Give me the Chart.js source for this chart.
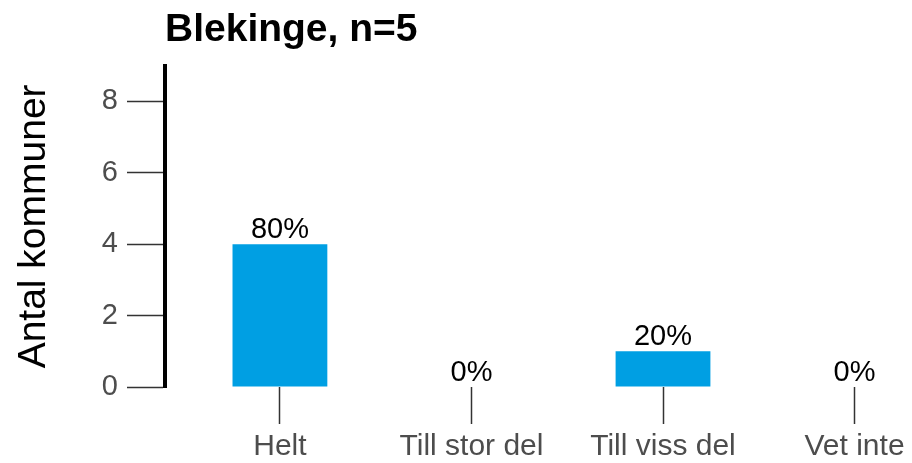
<!DOCTYPE html>
<html lang="sv">
<head>
<meta charset="utf-8">
<title>Blekinge, n=5</title>
<script src="https://cdn.jsdelivr.net/npm/chart.js@4/dist/chart.umd.min.js"></script>
<style>
  html, body { margin: 0; padding: 0; background: #fff; overflow: hidden; }
  #wrap { position: relative; width: 912px; height: 463px; }
</style>
</head>
<body>
<div id="wrap"><canvas id="chart"></canvas></div>
<script>
// Svarsfördelning per kategori
const region = 'Blekinge';
const n = 5;
const categories = ['Helt', 'Till stor del', 'Till viss del', 'Vet inte'];
const counts = [4, 0, 1, 0];
const yTicks = [0, 2, 4, 6, 8];

const FONT = '"Liberation Sans", Arial, sans-serif';
const BAR_COLOR = '#009FE3';

// percentage labels above each bar
const valueLabels = {
  id: 'valueLabels',
  afterDatasetsDraw(chart) {
    const ctx = chart.ctx;
    const meta = chart.getDatasetMeta(0);
    ctx.save();
    ctx.font = '29px ' + FONT;
    ctx.fillStyle = '#000';
    ctx.textAlign = 'center';
    ctx.textBaseline = 'alphabetic';
    meta.data.forEach((bar, i) => {
      const pct = Math.round(counts[i] / n * 100) + '%';
      ctx.fillText(pct, bar.x, bar.y - 6);
    });
    ctx.restore();
  }
};

new Chart(document.getElementById('chart'), {
  type: 'bar',
  data: {
    datasets: [{
      data: counts.map((c, i) => ({ x: i + 1, y: c })),
      backgroundColor: BAR_COLOR,
      borderWidth: 0,
      categoryPercentage: 1,
      barPercentage: 0.495
    }]
  },
  options: {
    responsive: true,
    maintainAspectRatio: false,
    animation: false,
    layout: { padding: 0 },
    plugins: {
      legend: { display: false },
      tooltip: { enabled: false },
      title: {
        display: true,
        text: region + ', n=' + n,
        align: 'start',
        fullSize: false,
        color: '#000',
        font: { family: FONT, size: 39, weight: 'bold', lineHeight: 1.2 },
        padding: { top: 7, bottom: 12 }
      }
    },
    scales: {
      x: {
        type: 'linear',
        offset: false,
        min: 0.4,
        max: 4.3,
        afterBuildTicks: scale => { scale.ticks = categories.map((c, i) => ({ value: i + 1 })); },
        afterFit: scale => { scale.height = 76; },
        border: { display: false },
        grid: {
          offset: false,
          drawOnChartArea: false,
          drawTicks: true,
          tickLength: 37,
          tickColor: '#333',
          tickWidth: 1.5
        },
        ticks: {
          autoSkip: false,
          maxRotation: 0,
          padding: 5,
          color: '#4d4d4d',
          font: { family: FONT, size: 30, lineHeight: 1.2 },
          callback: v => categories[v - 1]
        }
      },
      y: {
        min: 0,
        max: 9,
        afterBuildTicks: scale => { scale.ticks = yTicks.map(v => ({ value: v })); },
        afterFit: scale => { scale.width = 165; },
        border: { display: true, color: '#000', width: 4 },
        grid: {
          drawOnChartArea: false,
          tickLength: 38,
          tickColor: '#333',
          tickWidth: 1.5
        },
        ticks: {
          padding: 9,
          color: '#4d4d4d',
          font: { family: FONT, size: 29 }
        },
        title: {
          display: true,
          text: 'Antal kommuner',
          color: '#000',
          font: { family: FONT, size: 39, lineHeight: 1.2 },
          padding: { top: 11, bottom: 0 }
        }
      }
    }
  },
  plugins: [valueLabels]
});
</script>
</body>
</html>
